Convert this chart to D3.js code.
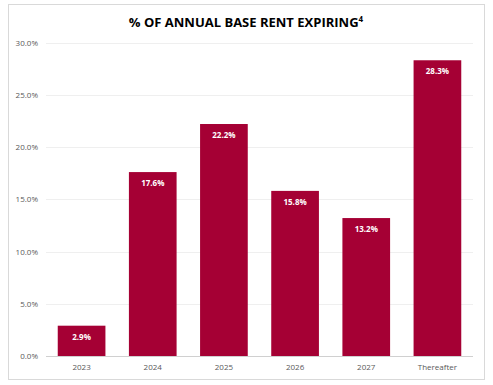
<!DOCTYPE html>
<html>
<head>
<meta charset="utf-8">
<script src="https://cdn.jsdelivr.net/npm/d3@7"></script>
<style>
  body { margin: 0; background: #fff; }
  text { font-family: "Open Sans", "Liberation Sans", sans-serif; }
</style>
</head>
<body>
<svg id="chart" width="493" height="385"></svg>
<script>
const categories = ["2023", "2024", "2025", "2026", "2027", "Thereafter"];
const values = [2.9, 17.6, 22.2, 15.8, 13.2, 28.3];
const ticks = [0, 5, 10, 15, 20, 25, 30];

const svg = d3.select("#chart");

// frame
svg.append("rect")
  .attr("x", 8.5).attr("y", 4.5)
  .attr("width", 476).attr("height", 375)
  .attr("fill", "none")
  .attr("stroke", "#d9d9d9")
  .attr("stroke-width", 1);

svg.append("text")
  .attr("x", 246).attr("y", 27)
  .attr("text-anchor", "middle")
  .attr("font-size", 13)
  .attr("font-weight", "bold")
  .attr("fill", "#000")
  .text("% OF ANNUAL BASE RENT EXPIRING")
  .append("tspan")
  .attr("font-size", 8)
  .attr("dy", -5)
  .text("4");

const x = d3.scaleBand().domain(categories).range([46, 473]).paddingInner(0.33).paddingOuter(0.165);
const y = d3.scaleLinear().domain([0, 30]).range([356, 42.5]);

// grid
svg.append("g")
  .selectAll("line")
  .data(ticks)
  .join("line")
  .attr("x1", 46).attr("x2", 473)
  .attr("y1", d => Math.round(y(d)) + 0.5)
  .attr("y2", d => Math.round(y(d)) + 0.5)
  .attr("stroke", d => d === 0 ? "#d0d0d0" : "#efefef")
  .attr("stroke-width", 1);

// y tick labels
svg.append("g")
  .selectAll("text")
  .data(ticks)
  .join("text")
  .attr("x", 38)
  .attr("y", d => y(d) + 3)
  .attr("text-anchor", "end")
  .attr("font-size", 8)
  .attr("fill", "#595959")
  .text(d => d.toFixed(1) + "%");

// bars
svg.append("g")
  .selectAll("rect")
  .data(values)
  .join("rect")
  .attr("x", (d, i) => x(categories[i]))
  .attr("y", d => y(d))
  .attr("width", x.bandwidth())
  .attr("height", d => y(0) - y(d))
  .attr("fill", "#a50034");

// value labels
svg.append("g")
  .selectAll("text")
  .data(values)
  .join("text")
  .attr("x", (d, i) => x(categories[i]) + x.bandwidth() / 2)
  .attr("y", d => y(d) + 14)
  .attr("text-anchor", "middle")
  .attr("font-size", 8)
  .attr("font-weight", "bold")
  .attr("fill", "#fff")
  .text(d => d.toFixed(1) + "%");

// x labels
svg.append("g")
  .selectAll("text")
  .data(categories)
  .join("text")
  .attr("x", d => x(d) + x.bandwidth() / 2)
  .attr("y", 370)
  .attr("text-anchor", "middle")
  .attr("font-size", 8)
  .attr("fill", "#595959")
  .text(d => d);
</script>
</body>
</html>
